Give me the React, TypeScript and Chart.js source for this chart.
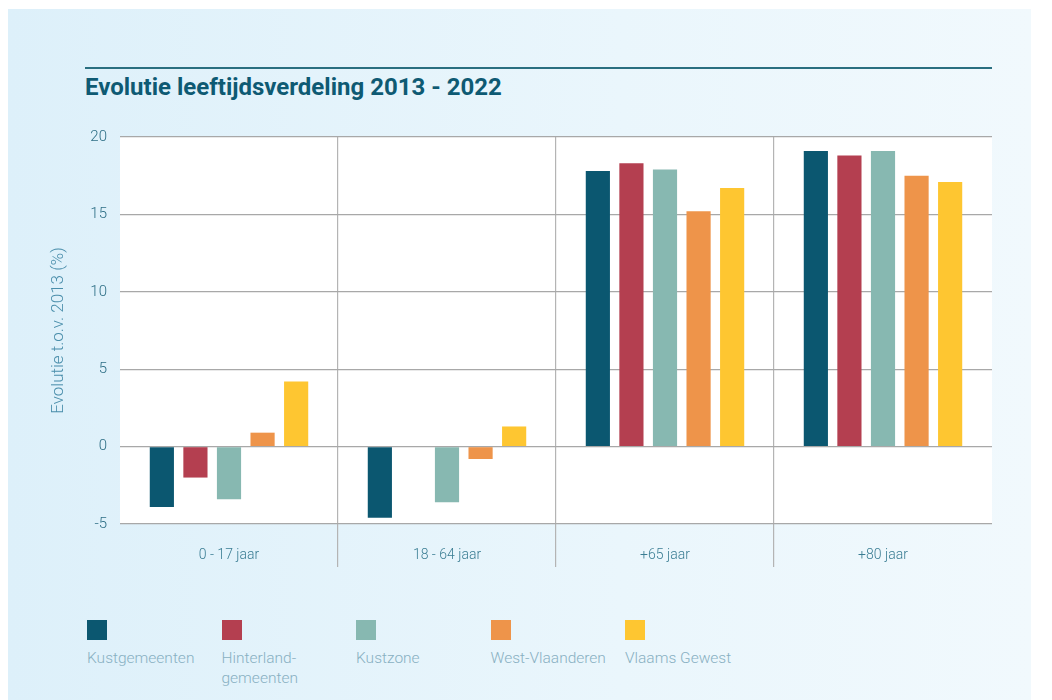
import React, { useEffect, useRef } from "react";
import { Chart, registerables } from "chart.js";

Chart.register(...registerables);

const categories = ["0 - 17 jaar", "18 - 64 jaar", "+65 jaar", "+80 jaar"];
const seriesNames = ["Kustgemeenten", "Hinterland-\ngemeenten", "Kustzone", "West-Vlaanderen", "Vlaams Gewest"];
const kustgemeenten = [-3.9, -4.6, 17.8, 19.1];
const hinterlandgemeenten = [-2.0, 0, 18.3, 18.8];
const kustzone = [-3.4, -3.6, 17.9, 19.1];
const westVlaanderen = [0.9, -0.8, 15.2, 17.5];
const vlaamsGewest = [4.2, 1.3, 16.7, 17.1];
const seriesColors = ["#0b5770", "#b43f50", "#87b8b1", "#ee944a", "#fec631"];
const yTicks = [-5, 0, 5, 10, 15, 20];

const FONT = "Roboto, 'Noto Sans', sans-serif";

const sepColor = (ctx: any) =>
  ctx.type !== "tick" || ctx.index === 0 || ctx.index === undefined ? "rgba(0,0,0,0)" : "#b4b4b4";

export default function App() {
  const ref = useRef<HTMLCanvasElement | null>(null);

  useEffect(() => {
    document.body.style.margin = "0";
    const values = [kustgemeenten, hinterlandgemeenten, kustzone, westVlaanderen, vlaamsGewest];
    const chart = new Chart(ref.current as HTMLCanvasElement, {
      type: "bar",
      data: {
        labels: categories,
        datasets: values.map((d, i) => ({
          label: seriesNames[i],
          data: d,
          backgroundColor: seriesColors[i],
          borderWidth: 0,
          categoryPercentage: 0.77,
          barPercentage: 0.72,
        })),
      },
      options: {
        animation: false,
        responsive: false,
        maintainAspectRatio: false,
        layout: { padding: { left: 0, right: 8, top: 0, bottom: 20 } },
        plugins: { legend: { display: false }, tooltip: { enabled: false } },
        scales: {
          x: {
            border: { display: false },
            grid: {
              offset: true,
              drawTicks: true,
              tickLength: 43,
              color: sepColor,
              tickColor: sepColor,
              lineWidth: 1.2,
            },
            ticks: {
              color: "#3a7d93",
              font: { family: FONT, size: 14, weight: "300" as any },
              padding: -20,
              maxRotation: 0,
            },
            afterFit: (s: any) => {
              s.height = 43;
            },
          },
          y: {
            min: -5,
            max: 20,
            afterBuildTicks: (s: any) => {
              s.ticks = yTicks.map((v) => ({ value: v }));
            },
            border: { display: false },
            grid: { drawTicks: false, color: "#a8a8a8", lineWidth: 1.2 },
            ticks: {
              color: "#2e6f86",
              font: { family: FONT, size: 15, weight: "300" as any },
              padding: 13,
            },
            title: {
              display: true,
              text: "Evolutie t.o.v. 2013 (%)",
              color: "#4a8eab",
              font: { family: FONT, size: 17, weight: "300" as any },
              padding: { top: 9, bottom: 0 },
            },
            afterFit: (s: any) => {
              s.width = 80;
            },
          },
        },
      },
    });
    return () => chart.destroy();
  }, []);

  return (
    <div style={{ position: "relative", width: 1052, height: 700, overflow: "hidden", fontFamily: FONT }}>
      <div
        style={{
          position: "absolute",
          left: 8,
          top: 9,
          width: 1023,
          height: 700,
          background: "linear-gradient(90deg, #ddf0fa 0%, #eaf6fc 60%, #f1f9fd 100%)",
        }}
      />
      <div style={{ position: "absolute", left: 85, top: 67, width: 907, height: 2, background: "#2a6f80" }} />
      <div
        style={{
          position: "absolute",
          left: 85,
          top: 73,
          fontSize: 24,
          fontWeight: 700,
          color: "#0e5a73",
          letterSpacing: 0,
          whiteSpace: "nowrap",
        }}
      >
        Evolutie leeftijdsverdeling 2013 - 2022
      </div>
      <div style={{ position: "absolute", left: 40, top: 115, width: 960, height: 472 }}>
        <div style={{ position: "absolute", left: 80, top: 22, width: 872, height: 387, background: "#ffffff" }} />
        <canvas ref={ref} width={960} height={472} style={{ position: "absolute", left: 0, top: 0 }} />
      </div>
      {seriesNames.map((name, i) => (
        <div key={i} style={{ position: "absolute", left: 87 + i * 134.5, top: 620, width: 130 }}>
          <div style={{ width: 20, height: 20, background: seriesColors[i] }} />
          <div
            style={{
              marginTop: 8,
              fontSize: 15.5,
              fontWeight: 300,
              color: "#88b0c2",
              lineHeight: "20px",
              whiteSpace: "pre-line",
            }}
          >
            {name}
          </div>
        </div>
      ))}
    </div>
  );
}
